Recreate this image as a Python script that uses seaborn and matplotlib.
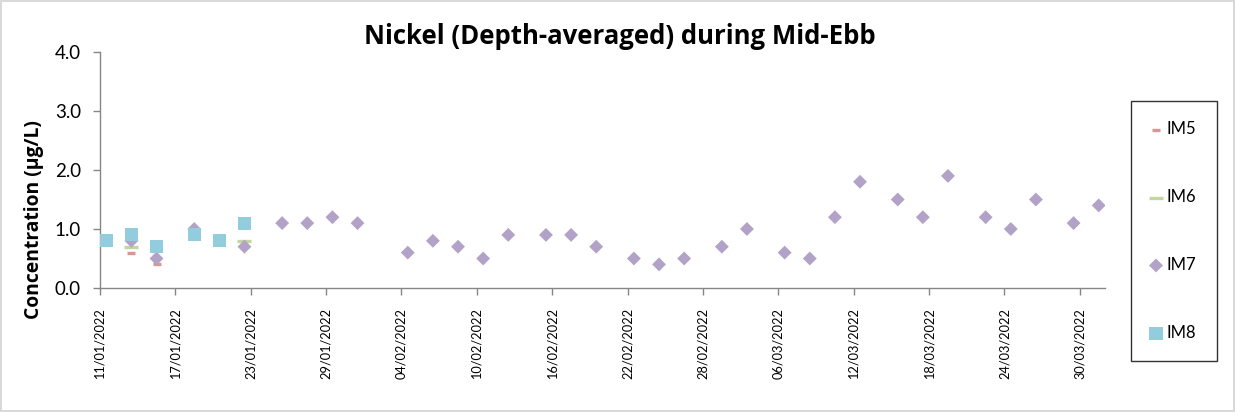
import matplotlib
matplotlib.use("Agg")
import matplotlib.pyplot as plt
import pandas as pd
import seaborn as sns

# Sampling times (mid-ebb) and depth-averaged nickel concentrations, ug/L
im5_dates = ["2022-01-13 12:00", "2022-01-15 12:00"]
im5_values = [0.6, 0.4]

im6_dates = ["2022-01-13 12:00", "2022-01-22 12:00"]
im6_values = [0.7, 0.8]

im7_dates = [
    "2022-01-13 12:00", "2022-01-15 12:00", "2022-01-18 12:00", "2022-01-22 12:00",
    "2022-01-25 12:00", "2022-01-27 12:00", "2022-01-29 12:00", "2022-01-31 12:00",
    "2022-02-04 12:00", "2022-02-06 12:00", "2022-02-08 12:00", "2022-02-10 12:00",
    "2022-02-12 12:00", "2022-02-15 12:00", "2022-02-17 12:00", "2022-02-19 12:00",
    "2022-02-22 12:00", "2022-02-24 12:00", "2022-02-26 12:00", "2022-03-01 12:00",
    "2022-03-03 12:00", "2022-03-06 12:00", "2022-03-08 12:00", "2022-03-10 12:00",
    "2022-03-12 12:00", "2022-03-15 12:00", "2022-03-17 12:00", "2022-03-19 12:00",
    "2022-03-22 12:00", "2022-03-24 12:00", "2022-03-26 12:00", "2022-03-29 12:00",
    "2022-03-31 12:00",
]
im7_values = [
    0.8, 0.5, 1.0, 0.7,
    1.1, 1.1, 1.2, 1.1,
    0.6, 0.8, 0.7, 0.5,
    0.9, 0.9, 0.9, 0.7,
    0.5, 0.4, 0.5, 0.7,
    1.0, 0.6, 0.5, 1.2,
    1.8, 1.5, 1.2, 1.9,
    1.2, 1.0, 1.5, 1.1,
    1.4,
]

im8_dates = ["2022-01-11 12:00", "2022-01-13 12:00", "2022-01-15 12:00",
             "2022-01-18 12:00", "2022-01-20 12:00", "2022-01-22 12:00"]
im8_values = [0.8, 0.9, 0.7, 0.9, 0.8, 1.1]

station_names = ["IM5", "IM6", "IM7", "IM8"]
y_ticks = [0.0, 1.0, 2.0, 3.0, 4.0]

sns.set_theme(style="white")
plt.rcParams["font.family"] = ["Lato", "DejaVu Sans"]
plt.rcParams["text.color"] = "black"
plt.rcParams["xtick.color"] = "black"
plt.rcParams["ytick.color"] = "black"

fig = plt.figure(figsize=(12.35, 4.12), dpi=100)
fig.patch.set_edgecolor("#d9d9d9")
fig.patch.set_linewidth(1.5)
ax = fig.add_axes([100 / 1235, 1 - 288 / 412, 1005 / 1235, 236 / 412])

series = [
    (im5_dates, im5_values, "#d99694", "_", 30, 2.4),
    (im6_dates, im6_values, "#c3d69b", "_", 100, 2.4),
    (im7_dates, im7_values, "#b3a2c7", "D", 50, 0),
    (im8_dates, im8_values, "#93cddd", "s", 90, 0),
]
for name, (dates, values, color, marker, size, lw) in zip(station_names, series):
    df = pd.DataFrame({"date": pd.to_datetime(dates), "value": values})
    kw = dict(marker=marker, s=size, color=color, label=name, ax=ax, zorder=3)
    if marker == "_":
        kw["linewidth"] = lw
    else:
        kw["edgecolor"] = "none"
    sns.scatterplot(data=df, x="date", y="value", **kw)

ax.set_xlim(pd.Timestamp("2022-01-11"), pd.Timestamp("2022-04-01"))
ax.set_ylim(0, 4)
ax.set_yticks(y_ticks)
ax.set_yticklabels([f"{v:.1f}" for v in y_ticks], fontsize=13.5)
tick_days = pd.date_range("2022-01-11", "2022-04-01", freq="6D")
ax.set_xticks(tick_days)
ax.set_xticklabels([d.strftime("%d/%m/%Y") for d in tick_days], rotation=90, fontsize=9.2)

for side in ["top", "right"]:
    ax.spines[side].set_visible(False)
for side in ["left", "bottom"]:
    ax.spines[side].set_color("#868686")
    ax.spines[side].set_linewidth(1)
ax.tick_params(axis="both", which="both", direction="out", length=5.2, width=1,
               color="#868686", bottom=True, left=True)
ax.tick_params(axis="y", pad=8.5)
ax.tick_params(axis="x", pad=9)

ax.set_xlabel("")
ax.set_ylabel("")
fig.text(34 / 1235, 1 - 220 / 412, "Concentration (μg/L)", rotation=90,
         ha="center", va="center", fontsize=13.9, fontweight="bold",
         family=["Open Sans", "DejaVu Sans"])
fig.text(620 / 1235, 1 - 36 / 412, "Nickel (Depth-averaged) during Mid-Ebb",
         ha="center", va="center", fontsize=18.5, fontweight="bold",
         family=["Open Sans", "DejaVu Sans"])

leg = ax.legend(loc="center left", bbox_to_anchor=(1131 / 1235, 1 - 231 / 412),
                bbox_transform=fig.transFigure, frameon=True, fontsize=12,
                labelspacing=3.1, borderpad=1.25, borderaxespad=0,
                handletextpad=0.4, handlelength=0.5, fancybox=False)
leg.get_frame().set_edgecolor("black")
leg.get_frame().set_linewidth(1)

fig.savefig("out.png", dpi=100)
